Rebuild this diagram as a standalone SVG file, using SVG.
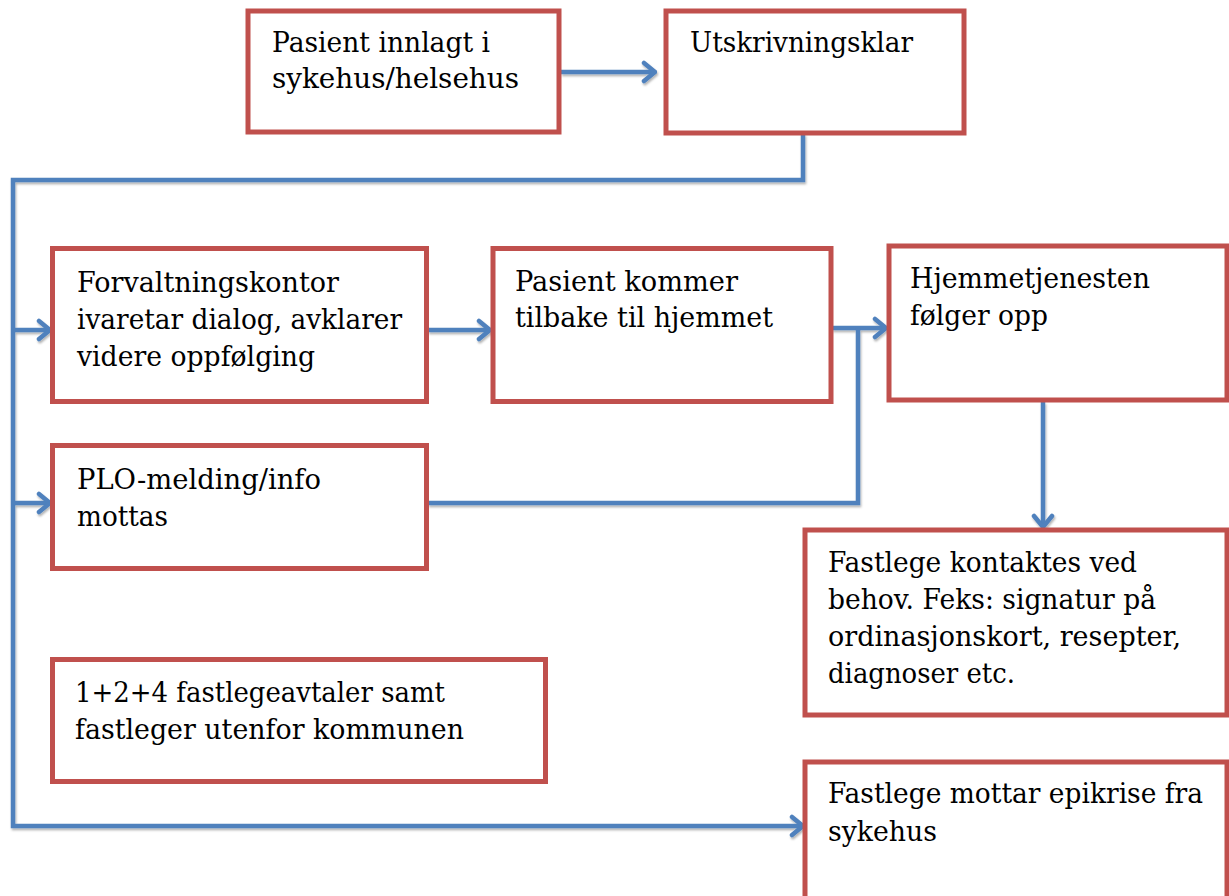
<svg xmlns="http://www.w3.org/2000/svg" width="1229" height="896" viewBox="0 0 1229 896">
<style>
.box{fill:#fff;stroke:#C0504D;stroke-width:5}
.t{font-family:'DejaVu Serif','Liberation Serif',serif;font-size:28px;fill:#000}
.c{fill:none;stroke:#4F81BD;stroke-width:4.5;stroke-linejoin:miter}
</style>
<defs>
<filter id="sh" x="-5%" y="-5%" width="110%" height="110%">
<feDropShadow dx="1" dy="2" stdDeviation="1.2" flood-color="#000" flood-opacity="0.3"/>
</filter>
<marker id="ah" viewBox="0 0 16 24" refX="14" refY="12" markerWidth="16" markerHeight="24" markerUnits="userSpaceOnUse" orient="auto">
<path d="M3,3 L14,12 L3,21" fill="none" stroke="#4F81BD" stroke-width="4.5" stroke-linecap="round" stroke-linejoin="miter"/>
</marker>
</defs>
<rect width="1229" height="896" fill="#fff"/>
<g id="connectors" filter="url(#sh)">
<path class="c" d="M561,72 H655" marker-end="url(#ah)"/>
<path class="c" d="M803,134 V180 H13 V826 H803" marker-end="url(#ah)"/>
<path class="c" d="M13,330 H50" marker-end="url(#ah)"/>
<path class="c" d="M13,503 H50" marker-end="url(#ah)"/>
<path class="c" d="M428,330 H490" marker-end="url(#ah)"/>
<path class="c" d="M832,328 H886" marker-end="url(#ah)"/>
<path class="c" d="M428,503 H858 V328"/>
<path class="c" d="M1043,402 V527" marker-end="url(#ah)"/>
</g>
<g id="n1"><rect class="box" x="248" y="11" width="311" height="121"/>
<text class="t" x="272" y="52" textLength="218" lengthAdjust="spacingAndGlyphs">Pasient innlagt i</text>
<text class="t" x="272" y="88" textLength="247" lengthAdjust="spacingAndGlyphs">sykehus/helsehus</text></g>
<g id="n2"><rect class="box" x="666" y="11" width="298" height="122"/>
<text class="t" x="690" y="52" textLength="223" lengthAdjust="spacingAndGlyphs">Utskrivningsklar</text></g>
<g id="n3"><rect class="box" x="52.5" y="248.5" width="374" height="153"/>
<text class="t" x="77" y="292" textLength="262" lengthAdjust="spacingAndGlyphs">Forvaltningskontor</text>
<text class="t" x="77" y="329" textLength="325" lengthAdjust="spacingAndGlyphs">ivaretar dialog, avklarer</text>
<text class="t" x="77" y="366" textLength="238" lengthAdjust="spacingAndGlyphs">videre oppfølging</text></g>
<g id="n4"><rect class="box" x="493" y="248.5" width="338" height="153"/>
<text class="t" x="515" y="291" textLength="223" lengthAdjust="spacingAndGlyphs">Pasient kommer</text>
<text class="t" x="515" y="327" textLength="258" lengthAdjust="spacingAndGlyphs">tilbake til hjemmet</text></g>
<g id="n5"><rect class="box" x="889" y="246" width="338" height="154"/>
<text class="t" x="910" y="288" textLength="240" lengthAdjust="spacingAndGlyphs">Hjemmetjenesten</text>
<text class="t" x="910" y="325" textLength="138" lengthAdjust="spacingAndGlyphs">følger opp</text></g>
<g id="n6"><rect class="box" x="52.5" y="445.5" width="374" height="123"/>
<text class="t" x="77" y="489" textLength="244" lengthAdjust="spacingAndGlyphs">PLO-melding/info</text>
<text class="t" x="77" y="526" textLength="91" lengthAdjust="spacingAndGlyphs">mottas</text></g>
<g id="n7"><rect class="box" x="805" y="530" width="422" height="185"/>
<text class="t" x="828" y="572" textLength="309" lengthAdjust="spacingAndGlyphs">Fastlege kontaktes ved</text>
<text class="t" x="828" y="609" textLength="328" lengthAdjust="spacingAndGlyphs">behov. Feks: signatur på</text>
<text class="t" x="828" y="646" textLength="353" lengthAdjust="spacingAndGlyphs">ordinasjonskort, resepter,</text>
<text class="t" x="828" y="683" textLength="187" lengthAdjust="spacingAndGlyphs">diagnoser etc.</text></g>
<g id="n8"><rect class="box" x="52.5" y="659.5" width="493" height="122"/>
<text class="t" x="75" y="702" textLength="370" lengthAdjust="spacingAndGlyphs">1+2+4 fastlegeavtaler samt</text>
<text class="t" x="75" y="739" textLength="389" lengthAdjust="spacingAndGlyphs">fastleger utenfor kommunen</text></g>
<g id="n9"><rect class="box" x="805" y="762" width="422" height="160"/>
<text class="t" x="828" y="803" textLength="375" lengthAdjust="spacingAndGlyphs">Fastlege mottar epikrise fra</text>
<text class="t" x="828" y="841" textLength="109" lengthAdjust="spacingAndGlyphs">sykehus</text></g>
</svg>
